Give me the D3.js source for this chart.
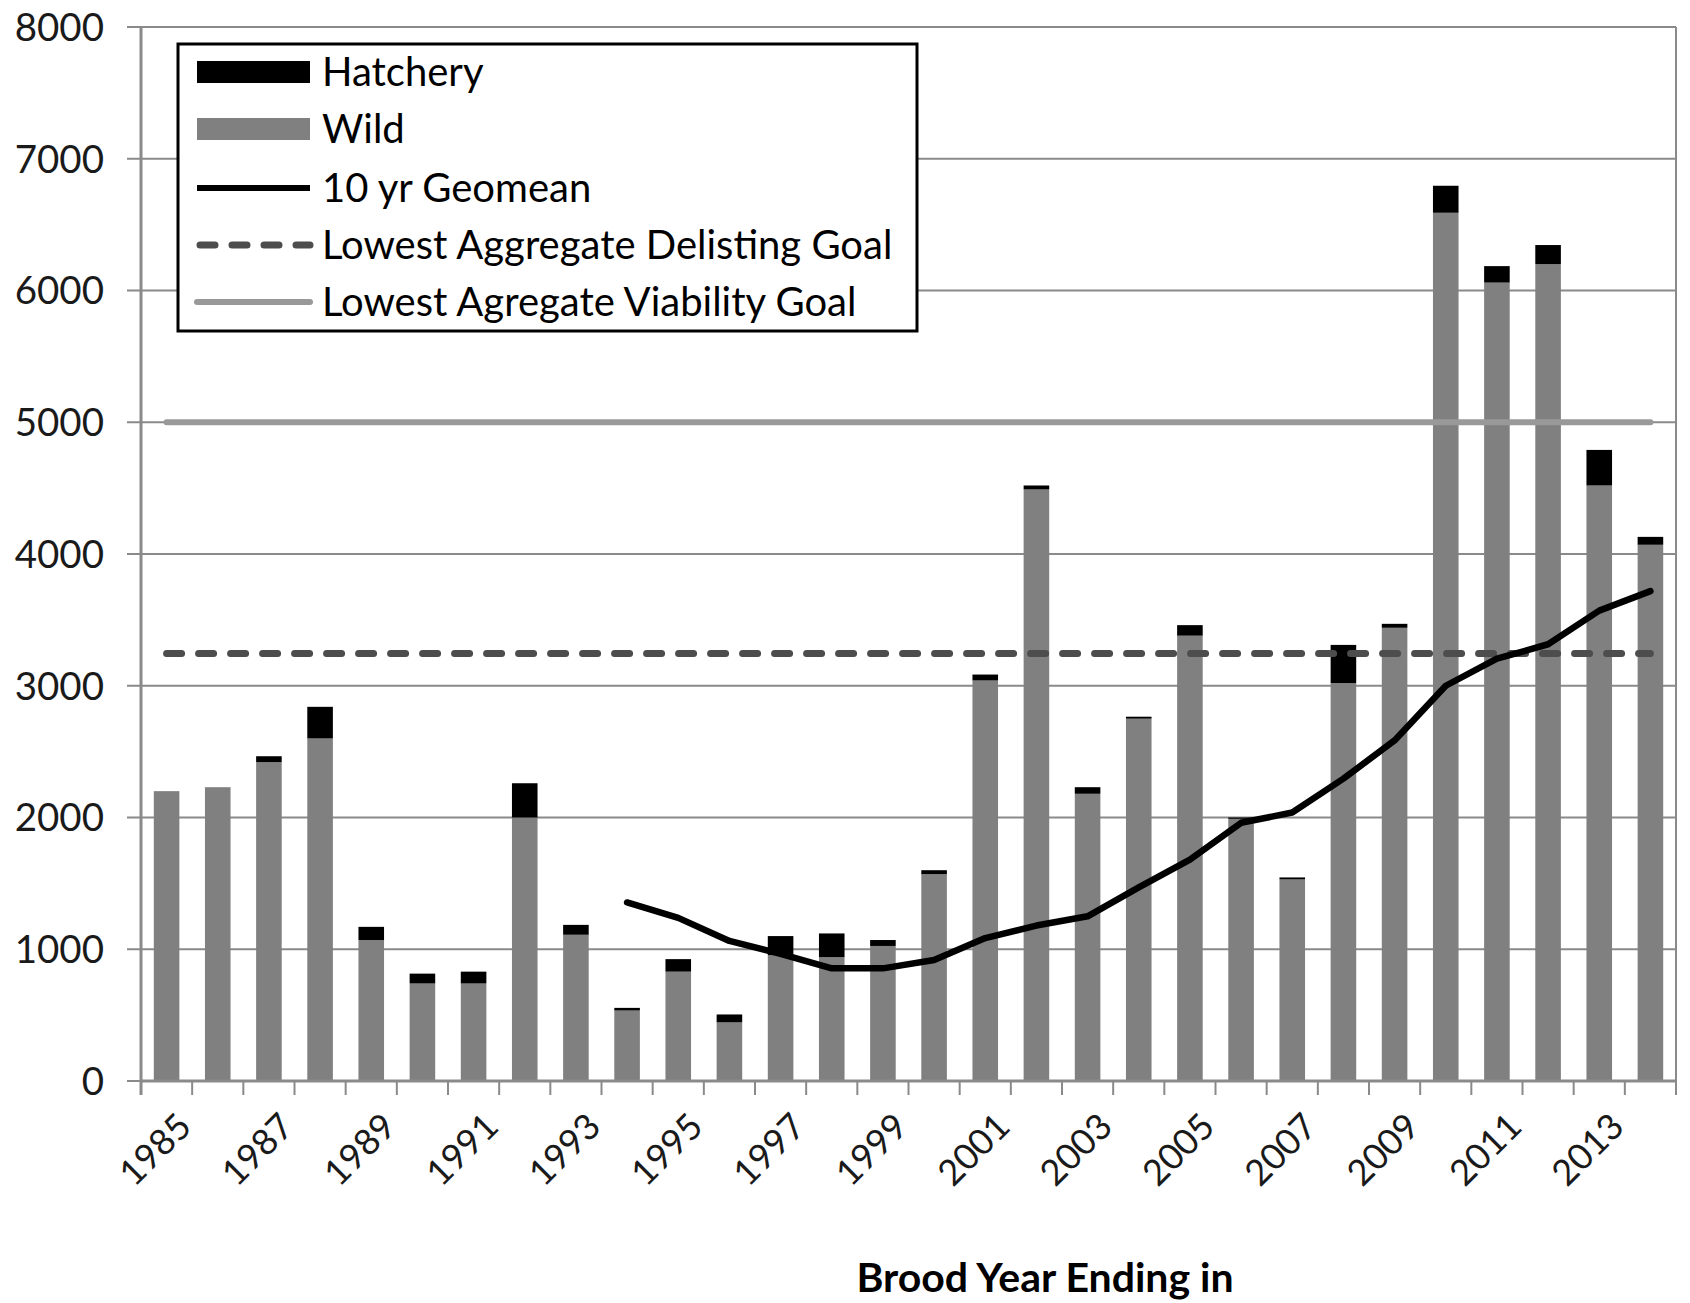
<!DOCTYPE html>
<html>
<head>
<meta charset="utf-8">
<script src="https://cdn.jsdelivr.net/npm/d3@7"></script>
<style>
  html, body { margin: 0; padding: 0; background: #fff; }
  svg { display: block; font-family: Lato, "Open Sans", sans-serif; }
</style>
</head>
<body>
<svg id="chart" width="1690" height="1303"></svg>
<script>
// DATA
const years = d3.range(1985, 2015).map(String);
const wild = [2200, 2230, 2420, 2600, 1070, 740, 740, 2000, 1110, 535,
              830, 445, 955, 940, 1025, 1570, 3040, 4490, 2180, 2750,
              3380, 1990, 1530, 3020, 3440, 6590, 6060, 6200, 4520, 4070];
const hatchery = [0, 0, 45, 240, 100, 75, 90, 260, 75, 20,
                  95, 60, 145, 180, 45, 30, 45, 30, 50, 15,
                  80, 10, 15, 290, 30, 205, 125, 145, 270, 60];
const geomeanYears = d3.range(1994, 2015).map(String);
const geomean = [1355, 1238, 1063, 965, 855, 855, 918, 1085, 1180, 1250, 1470,
                 1680, 1960, 2038, 2295, 2585, 3000, 3205, 3315, 3570, 3718];
const delistingGoal = 3245;
const viabilityGoal = 5000;
const yTicks = [0, 1000, 2000, 3000, 4000, 5000, 6000, 7000, 8000];
const labelYears = years.filter((d, i) => i % 2 === 0);

// SETUP
const svg = d3.select("#chart"),
    margin = {top: 27, right: 14, bottom: 222, left: 141},
    width = 1690 - margin.left - margin.right,
    height = 1303 - margin.top - margin.bottom;

const x = d3.scaleBand().domain(years).range([0, width]).paddingInner(0.5).paddingOuter(0.25);
const y = d3.scaleLinear().domain([0, 8000]).range([height, 0]);
const band = width / years.length;

const g = svg.append("g")
    .attr("transform", "translate(" + margin.left + "," + margin.top + ")");

// gridlines
g.append("g")
    .selectAll("line")
    .data(yTicks)
    .enter().append("line")
    .attr("x1", -14)
    .attr("x2", width)
    .attr("y1", d => y(d))
    .attr("y2", d => y(d))
    .attr("stroke", "#8a8a8a")
    .attr("stroke-width", 2);

// right border of plot
g.append("line")
    .attr("x1", width).attr("x2", width)
    .attr("y1", 0).attr("y2", height + 14)
    .attr("stroke", "#8a8a8a").attr("stroke-width", 2);

// y labels
g.append("g")
    .selectAll("text")
    .data(yTicks)
    .enter().append("text")
    .attr("x", -37)
    .attr("y", d => y(d))
    .attr("dy", "0.36em")
    .attr("text-anchor", "end")
    .attr("font-size", 38.5)
    .attr("fill", "#1a1a1a")
    .text(d => d);

// BARS
const stacked = years.map((yr, i) => ({year: yr, wild: wild[i], hatchery: hatchery[i]}));

g.append("g").selectAll("rect")
    .data(stacked)
    .enter().append("rect")
    .attr("x", d => x(d.year))
    .attr("width", x.bandwidth())
    .attr("y", d => y(d.wild))
    .attr("height", d => height - y(d.wild))
    .attr("fill", "#808080");

g.append("g").selectAll("rect")
    .data(stacked)
    .enter().append("rect")
    .attr("x", d => x(d.year))
    .attr("width", x.bandwidth())
    .attr("y", d => y(d.wild + d.hatchery))
    .attr("height", d => y(d.wild) - y(d.wild + d.hatchery))
    .attr("fill", "#000");

// x axis line + ticks between categories
g.append("line")
    .attr("x1", 0).attr("x2", width)
    .attr("y1", height).attr("y2", height)
    .attr("stroke", "#8a8a8a").attr("stroke-width", 3);

g.append("line")
    .attr("x1", 0).attr("x2", 0)
    .attr("y1", 0).attr("y2", height + 14)
    .attr("stroke", "#8a8a8a").attr("stroke-width", 3);

g.append("g").selectAll("line")
    .data(d3.range(years.length + 1))
    .enter().append("line")
    .attr("x1", i => i * band).attr("x2", i => i * band)
    .attr("y1", height).attr("y2", height + 14)
    .attr("stroke", "#8a8a8a").attr("stroke-width", 2);

// x labels
const cx = d => x(d) + x.bandwidth() / 2;

g.append("g").selectAll("text")
    .data(labelYears)
    .enter().append("text")
    .attr("transform", d => "translate(" + (cx(d) + 9) + "," + (height + 30) + ") rotate(-45)")
    .attr("text-anchor", "end")
    .attr("dy", "0.7em")
    .attr("font-size", 36)
    .attr("fill", "#1a1a1a")
    .text(d => d);

// goal lines
const first = cx(years[0]), last = cx(years[years.length - 1]);

g.append("line")
    .attr("x1", first).attr("x2", last)
    .attr("y1", y(viabilityGoal)).attr("y2", y(viabilityGoal))
    .attr("stroke", "#999999").attr("stroke-width", 6)
    .attr("stroke-linecap", "round");

g.append("line")
    .attr("x1", first).attr("x2", last)
    .attr("y1", y(delistingGoal)).attr("y2", y(delistingGoal))
    .attr("stroke", "#4d4d4d").attr("stroke-width", 7)
    .attr("stroke-linecap", "round")
    .attr("stroke-dasharray", "15 17");

// geomean line
const line = d3.line()
    .x((d, i) => cx(geomeanYears[i]))
    .y(d => y(d));

g.append("path")
    .datum(geomean)
    .attr("d", line)
    .attr("fill", "none")
    .attr("stroke", "#000")
    .attr("stroke-width", 6.5)
    .attr("stroke-linejoin", "round")
    .attr("stroke-linecap", "round");

// x title
svg.append("text")
    .attr("x", 1045)
    .attr("y", 1292)
    .attr("text-anchor", "middle")
    .attr("font-size", 41)
    .attr("font-weight", "bold")
    .attr("fill", "#000")
    .text("Brood Year Ending in");

// LEGEND
const legend = svg.append("g");
legend.append("rect")
    .attr("x", 178).attr("y", 44)
    .attr("width", 739).attr("height", 287)
    .attr("fill", "#fff")
    .attr("stroke", "#000").attr("stroke-width", 3);

const items = [
    {name: "Hatchery", type: "rect", color: "#000"},
    {name: "Wild", type: "rect", color: "#808080"},
    {name: "10 yr Geomean", type: "line", color: "#000"},
    {name: "Lowest Aggregate Delisting Goal", type: "dash", color: "#4d4d4d"},
    {name: "Lowest Agregate Viability Goal", type: "line", color: "#999999"}
];
const rowY = [72, 129, 188, 245, 302];

const rows = legend.selectAll(".item")
    .data(items)
    .enter().append("g")
    .attr("transform", (d, i) => "translate(0," + rowY[i] + ")");

rows.filter(d => d.type === "rect").append("rect")
    .attr("x", 197).attr("y", -11)
    .attr("width", 113).attr("height", 22)
    .attr("fill", d => d.color);

rows.filter(d => d.type !== "rect").append("line")
    .attr("x1", d => d.type === "dash" ? 200 : 197)
    .attr("x2", 310)
    .attr("y1", 0).attr("y2", 0)
    .attr("stroke", d => d.color)
    .attr("stroke-width", d => d.type === "dash" ? 7 : 6)
    .attr("stroke-linecap", d => d.type === "line" && d.color === "#000" ? "butt" : "round")
    .attr("stroke-dasharray", d => d.type === "dash" ? "15 17" : null);

rows.append("text")
    .attr("x", 322)
    .attr("dy", "0.36em")
    .attr("font-size", 40)
    .attr("fill", "#000")
    .text(d => d.name);
</script>
</body>
</html>
